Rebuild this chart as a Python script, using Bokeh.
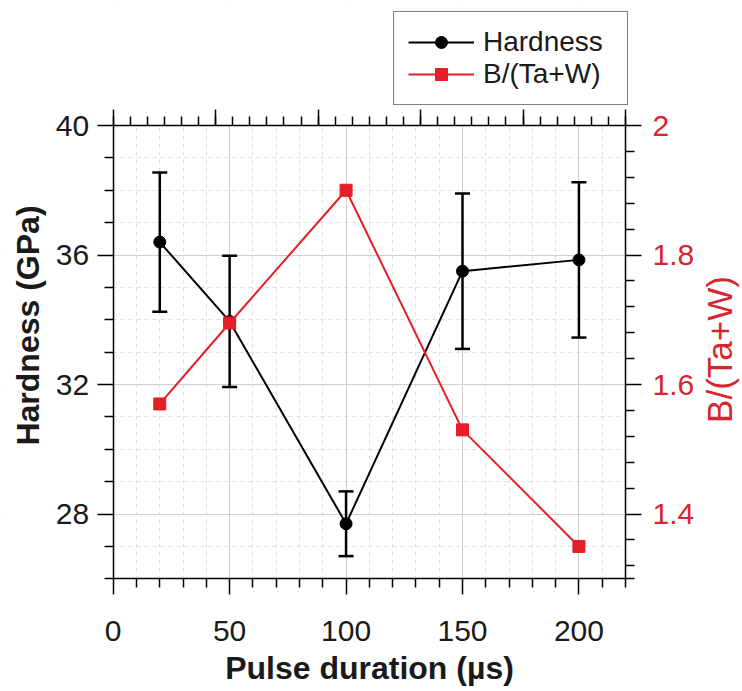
import math
from bokeh.plotting import figure
from bokeh.models import (Range1d, LinearAxis, FixedTicker, Whisker, ColumnDataSource,
                          Legend, LegendItem, TeeHead, BoxAnnotation, Label)
from bokeh.embed import file_html
from bokeh.resources import INLINE

# ---------------- data ----------------
pulse_us = [20, 50, 100, 150, 200]
hardness_gpa = [36.4, 33.95, 27.7, 35.5, 35.85]
hardness_err = [2.15, 2.03, 1.0, 2.4, 2.4]
b_ratio = [1.57, 1.695, 1.90, 1.53, 1.35]

x_major = [0, 50, 100, 150, 200]
x_minor = [10, 20, 30, 40, 60, 70, 80, 90, 110, 120, 130, 140,
           160, 170, 180, 190, 210, 220]
y_major = [28, 32, 36, 40]
y_minor = [26, 27, 29, 30, 31, 33, 34, 35, 37, 38, 39]
b_major = [1.4, 1.6, 1.8, 2.0]
b_labels = ["1.4", "1.6", "1.8", "2"]
b_minor = [1.3, 1.32, 1.36, 1.44, 1.48, 1.52, 1.56, 1.64, 1.68, 1.72, 1.76,
           1.84, 1.88, 1.92, 1.96]
top_major = [0, 1, 2, 3, 4, 5]
top_minor = [k / 6 for k in range(31)]

# axis limits of the plot box
X_LO, X_HI = 0, 220
H_LO, H_HI = 26, 40
B_LO, B_HI = 1.3, 2.0
T_LO, T_HI = 0, 5

# ---------------- layout (pixels on the page) ----------------
W, H = 742, 691
BOX_L, BOX_R, BOX_T, BOX_B = 112.7, 625.0, 125.0, 578.3

kx = (BOX_R - BOX_L) / (X_HI - X_LO)
ky = (BOX_B - BOX_T) / (H_HI - H_LO)
kb = (BOX_B - BOX_T) / (B_HI - B_LO)
kt = (BOX_R - BOX_L) / (T_HI - T_LO)


def px_x(px):
    return X_LO + (px - BOX_L) / kx


def px_y(py):
    return H_HI - (py - BOX_T) / ky


FONT = "Liberation Sans"
RED = "#e41e26"
RED_TXT = "#d8262e"
INK = "#1a1a1a"

lower = [h - e for h, e in zip(hardness_gpa, hardness_err)]
upper = [h + e for h, e in zip(hardness_gpa, hardness_err)]
src_h = ColumnDataSource(dict(x=pulse_us, y=hardness_gpa, lo=lower, up=upper))
src_b = ColumnDataSource(dict(x=pulse_us, y=b_ratio))

p = figure(width=W, height=H,
           x_range=Range1d(px_x(0), px_x(W)),
           y_range=Range1d(px_y(H), px_y(0)),
           output_backend="svg", toolbar_location=None,
           min_border_left=0, min_border_right=0, min_border_top=0,
           min_border_bottom=0)
p.extra_y_ranges = {"b": Range1d(B_LO - (H - BOX_B) / kb, B_HI + BOX_T / kb)}
p.extra_x_ranges = {"top": Range1d(T_LO - BOX_L / kt, T_HI + (W - BOX_R) / kt)}
p.outline_line_color = None


def style_axis(ax):
    ax.axis_line_width = 1.5
    ax.axis_line_color = "black"
    ax.major_tick_line_width = 1.5
    ax.minor_tick_line_width = 1.5
    ax.major_tick_line_color = "black"
    ax.minor_tick_line_color = "black"
    ax.major_tick_out = 16
    ax.major_tick_in = 0
    ax.minor_tick_out = 9
    ax.minor_tick_in = 0
    ax.major_label_text_font = FONT
    ax.major_label_text_font_size = "30px"
    ax.major_label_text_color = INK


xa = p.xaxis[0]
xa.ticker = FixedTicker(ticks=x_major, minor_ticks=x_minor)
xa.fixed_location = H_LO
xa.bounds = (X_LO, X_HI)
style_axis(xa)
xa.major_label_standoff = 26

ya = p.yaxis[0]
ya.ticker = FixedTicker(ticks=y_major, minor_ticks=y_minor)
ya.fixed_location = X_LO
ya.bounds = (H_LO, H_HI)
style_axis(ya)
ya.major_label_standoff = 8

ra = LinearAxis(y_range_name="b", fixed_location=X_HI, bounds=(B_LO, B_HI))
ra.ticker = FixedTicker(ticks=b_major, minor_ticks=b_minor)
ra.major_label_overrides = dict(zip(b_major, b_labels))
style_axis(ra)
ra.major_label_text_color = RED_TXT
ra.major_label_standoff = 11
p.add_layout(ra, "right")

ta = LinearAxis(x_range_name="top", fixed_location=H_HI, bounds=(T_LO, T_HI))
ta.ticker = FixedTicker(ticks=top_major, minor_ticks=top_minor)
style_axis(ta)
ta.major_label_text_font_size = "0px"
p.add_layout(ta, "above")

# grids
p.xgrid.ticker = FixedTicker(ticks=x_major, minor_ticks=x_minor)
p.ygrid.ticker = FixedTicker(ticks=y_major, minor_ticks=y_minor)
for g in (p.xgrid[0], p.ygrid[0]):
    g.grid_line_color = "#cfcfcf"
    g.grid_line_width = 1
    g.minor_grid_line_color = "#dedede"
    g.minor_grid_line_width = 1
    g.minor_grid_line_dash = "4 4"

# white margins around the plot box (hide grid lines outside it)
for kw in (dict(bottom=H_HI), dict(top=H_LO), dict(right=X_LO), dict(left=X_HI)):
    p.add_layout(BoxAnnotation(fill_color="white", fill_alpha=1, line_alpha=0,
                               level="underlay", **kw))

# axis titles
p.add_layout(Label(x=px_x(27), y=px_y(325), text="Hardness (GPa)", angle=math.pi / 2,
                   text_align="center", text_baseline="middle", text_font=FONT,
                   text_font_size="32px", text_font_style="bold", text_color=INK))
p.add_layout(Label(x=px_x(369), y=px_y(667), text="Pulse duration (µs)",
                   text_align="center", text_baseline="middle", text_font=FONT,
                   text_font_size="32px", text_font_style="bold", text_color=INK))
p.add_layout(Label(x=px_x(719), y=px_y(349), text="B/(Ta+W)", angle=math.pi / 2,
                   text_align="center", text_baseline="middle", text_font=FONT,
                   text_font_size="35px", text_color=RED_TXT))

# error bars
wh = Whisker(base="x", upper="up", lower="lo", source=src_h, line_color="black",
             line_width=2.5,
             upper_head=TeeHead(size=15, line_width=2.5, line_color="black"),
             lower_head=TeeHead(size=15, line_width=2.5, line_color="black"))
p.add_layout(wh)

hl = p.line("x", "y", source=src_h, line_color="black", line_width=2)
hs = p.scatter("x", "y", source=src_h, marker="circle", size=12,
               fill_color="black", line_color="black")
bl = p.line("x", "y", source=src_b, y_range_name="b", line_color=RED, line_width=2)
bs = p.scatter("x", "y", source=src_b, y_range_name="b", marker="square", size=12,
               fill_color=RED, line_color=RED)

legend = Legend(items=[LegendItem(label="Hardness", renderers=[hl, hs]),
                       LegendItem(label="B/(Ta+W)", renderers=[bl, bs])],
                location=(393, 586))
legend.label_text_font = FONT
legend.label_text_font_size = "28px"
legend.label_text_color = INK
legend.glyph_width = 66
legend.glyph_height = 30
legend.label_height = 30
legend.label_width = 130
legend.label_standoff = 9
legend.padding = 14
legend.spacing = 0
legend.margin = 0
legend.border_line_color = "black"
legend.border_line_width = 1.5
legend.background_fill_color = "white"
legend.background_fill_alpha = 1
p.add_layout(legend)

open("out.html", "w").write(file_html(p, INLINE))
